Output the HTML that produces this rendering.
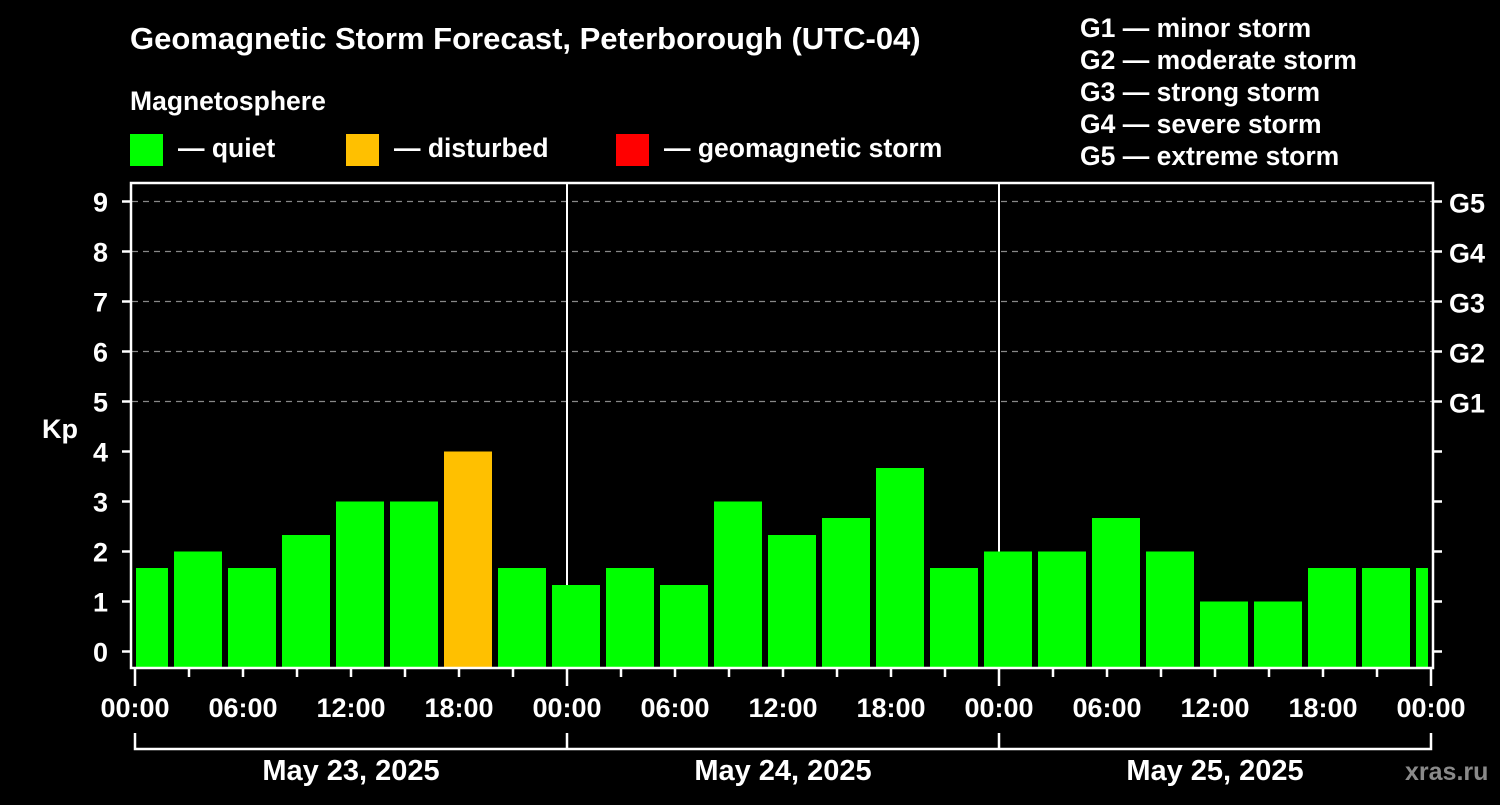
<!DOCTYPE html>
<html><head><meta charset="utf-8"><style>
body{margin:0;background:#000;width:1500px;height:800px;overflow:hidden;font-family:"Liberation Sans",sans-serif}
svg text{font-family:"Liberation Sans",sans-serif;font-weight:bold;fill:#fff}
</style></head><body>
<svg id="chart" width="1500" height="800">
<text x="130" y="49" font-size="31">Geomagnetic Storm Forecast, Peterborough (UTC-04)</text>
<text x="130" y="110" font-size="26.5">Magnetosphere</text>
<g><rect x="130" y="134" width="33" height="32" fill="#00ff00"/><text x="178" y="157" font-size="26.5">— quiet</text></g>
<g><rect x="346" y="134" width="33" height="32" fill="#ffc000"/><text x="394" y="157" font-size="26.5">— disturbed</text></g>
<g><rect x="616" y="134" width="33" height="32" fill="#ff0000"/><text x="664" y="157" font-size="26.5">— geomagnetic storm</text></g>
<g font-size="26.5">
<text x="1080" y="37">G1 — minor storm</text><text x="1080" y="69">G2 — moderate storm</text><text x="1080" y="101">G3 — strong storm</text><text x="1080" y="133">G4 — severe storm</text><text x="1080" y="165">G5 — extreme storm</text></g>
<text x="42" y="438" font-size="27">Kp</text>
<g id="grid"></g><g id="bars"></g><g id="axes"></g>
<rect x="131" y="183" width="1302" height="485" fill="none" stroke="#fff" stroke-width="2.5"/>
<text x="1405" y="780" font-size="25" style="fill:#8a8a8a">xras.ru</text>
</svg>
<script>
const kpValues=[1.67,2,1.67,2.33,3,3,4,1.67,1.33,1.67,1.33,3,2.33,2.67,3.67,1.67,2,2,2.67,2,1,1,1.67,1.67,1.67];
const yTicks=[0,1,2,3,4,5,6,7,8,9];
const gLabels=["G1","G2","G3","G4","G5"];
const gLevels=[5,6,7,8,9];
const hourLabels=["00:00","06:00","12:00","18:00","00:00","06:00","12:00","18:00","00:00","06:00","12:00","18:00","00:00"];
const dayLabels=["May 23, 2025","May 24, 2025","May 25, 2025"];
const NS="http://www.w3.org/2000/svg";
const y=v=>651.5-v*50;
const x=h=>135+h*18; // h in hours
function mk(p,t,a){const e=document.createElementNS(NS,t);for(const k in a)e.setAttribute(k,a[k]);p.appendChild(e);return e;}
const grid=document.getElementById('grid'),bars=document.getElementById('bars'),ax=document.getElementById('axes');
gLevels.forEach((lv,i)=>{
 const l=mk(grid,'line',{x1:132,x2:1432,y1:y(lv),y2:y(lv),stroke:'#888','stroke-dasharray':'6 5','stroke-width':1.2});
 
 
 const t=mk(ax,'text',{x:1449,y:y(lv)+11,'font-size':27});t.textContent=gLabels[i];
 
 
});
[1,2].forEach(d=>{const l=mk(grid,'line',{x1:x(d*24),x2:x(d*24),y1:183,y2:668,stroke:'#fff','stroke-width':2});
 
 });
kpValues.forEach((v,i)=>{
 let x0=x(3*i)-15, x1=x0+48;
 x0=Math.max(x0,136);x1=Math.min(x1,1428);
 const c=v>=5?'#ff0000':v>=4?'#ffc000':'#00ff00';
 const r=mk(bars,'rect',{x:x0,y:y(v),width:x1-x0,height:667-y(v),fill:c});
 
 
});
yTicks.forEach(v=>{
 mk(ax,'line',{x1:122,x2:131,y1:y(v),y2:y(v),stroke:'#fff','stroke-width':2.5});
 mk(ax,'line',{x1:1433,x2:1442,y1:y(v),y2:y(v),stroke:'#fff','stroke-width':2.5});
 const t=mk(ax,'text',{x:108,y:y(v)+10,'font-size':27,'text-anchor':'end'});t.textContent=v;
 
 
});
for(let h=0;h<=72;h+=3){const major=h%24==0;
 mk(ax,'line',{x1:x(h),x2:x(h),y1:668,y2:major?686:677,stroke:'#fff','stroke-width':2.5});}
hourLabels.forEach((s,i)=>{const t=mk(ax,'text',{x:x(i*6),y:717,'font-size':27,'text-anchor':'middle'});t.textContent=s;
 
 });
mk(ax,'path',{d:`M${x(0)} 733V749H${x(72)}V733`,fill:'none',stroke:'#fff','stroke-width':2.5});
[1,2].forEach(d=>mk(ax,'line',{x1:x(d*24),x2:x(d*24),y1:733,y2:749,stroke:'#fff','stroke-width':2.5}));
dayLabels.forEach((s,i)=>{const t=mk(ax,'text',{x:x(i*24+12),y:780,'font-size':29,'text-anchor':'middle'});t.textContent=s;
 
 });
</script>
</body></html>
